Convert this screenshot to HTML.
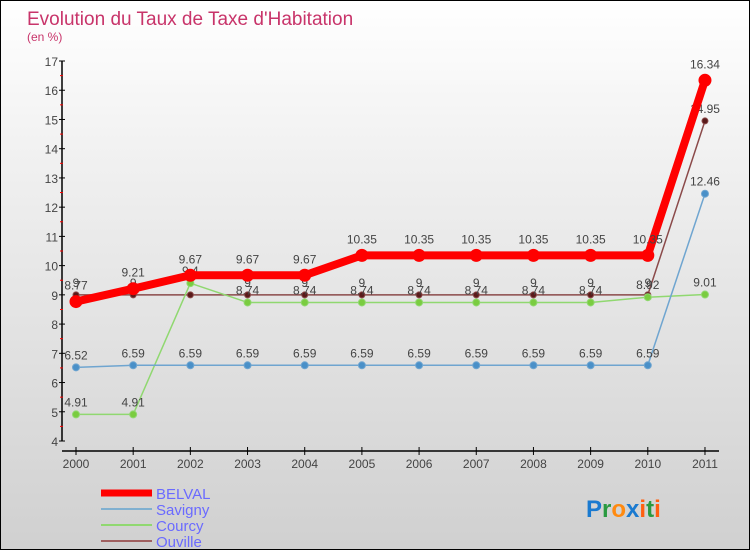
<!DOCTYPE html>
<html><head><meta charset="utf-8"><style>
body{margin:0}
#wrap{position:relative;width:748px;height:548px;border:1px solid #000;background:linear-gradient(#fff,#f0f0f0 30%,#d0d0d0);font-family:"Liberation Sans",sans-serif;overflow:hidden}
</style></head><body>
<div id="wrap">
<svg id="chart" width="748" height="548"></svg>
</div>
<script>
const years=[2000,2001,2002,2003,2004,2005,2006,2007,2008,2009,2010,2011];
const belval=[8.77,9.21,9.67,9.67,9.67,10.35,10.35,10.35,10.35,10.35,10.35,16.34];
const savigny=[6.52,6.59,6.59,6.59,6.59,6.59,6.59,6.59,6.59,6.59,6.59,12.46];
const courcy=[4.91,4.91,9.4,8.74,8.74,8.74,8.74,8.74,8.74,8.74,8.92,9.01];
const ouville=[9,9,9,9,9,9,9,9,9,9,9,14.95];
const yTicks=[4,5,6,7,8,9,10,11,12,13,14,15,16,17];
const NS='http://www.w3.org/2000/svg';
const svg=document.getElementById('chart');
const X=i=>75+i*57.18, Y=v=>440-(v-4)*29.23;
function el(t,a,txt){const e=document.createElementNS(NS,t);for(const k in a)e.setAttribute(k,a[k]);if(txt!==undefined)e.textContent=txt;svg.appendChild(e);return e;}
let e;
e=el('text',{x:26,y:24,'font-size':19,fill:'#c8346a'},'Evolution du Taux de Taxe d\'Habitation');

e=el('text',{x:26,y:40,'font-size':12,fill:'#c8346a'},'(en %)');

e=el('line',{x1:61,y1:60,x2:61,y2:440,stroke:'#000','stroke-width':1.5});

e=el('line',{x1:61,y1:450,x2:718,y2:450,stroke:'#000','stroke-width':1.5});

yTicks.forEach((v,i)=>{
  el('line',{x1:58,y1:Y(v),x2:64,y2:Y(v),stroke:'#000'});
  if(i<yTicks.length-1)el('line',{x1:59,y1:Y(v+0.5),x2:62,y2:Y(v+0.5),stroke:'#f00'});
  e=el('text',{x:57,y:Y(v)+5,'font-size':12,fill:'#444','text-anchor':'end'},v);
  
});
years.forEach((y,i)=>{
  el('line',{x1:X(i),y1:446,x2:X(i),y2:454,stroke:'#000'});
  e=el('text',{x:X(i),y:467,'font-size':12,fill:'#444','text-anchor':'middle'},y);
  
});
function series(name,data,color,w,r,dot,labelDy){
  const pts=data.map((v,i)=>X(i)+','+Y(v)).join(' ');
  e=el('polyline',{points:pts,fill:'none',stroke:color,'stroke-width':w,'stroke-linejoin':'round'});
  
  data.forEach((v,i)=>{
    e=el('circle',{cx:X(i),cy:Y(v),r:r,fill:dot,stroke:color,'stroke-width':1});
    
    e=el('text',{x:X(i),y:Y(v)+labelDy,'font-size':12,fill:'#444','text-anchor':'middle'},String(v));
    
  });
}
series('ouville',ouville,'#8b4a4a',1.5,3,'#5a1a1a',-8);
series('courcy',courcy,'#90d870',1.5,3.5,'#7acc40',-8);
series('savigny',savigny,'#6fa5d0',1.5,3.5,'#4a90c8',-8);
series('belval',belval,'#f00',8,6,'#f00',-12);
const leg=[['BELVAL','#f00',7],['Savigny','#80b0d0',2],['Courcy','#90d870',2],['Ouville','#a06060',2]];
leg.forEach((l,i)=>{
  const y=492+i*16;
  e=el('line',{x1:100,y1:y,x2:151,y2:y,stroke:l[1],'stroke-width':l[2]});
  
  e=el('text',{x:155,y:y+6,'font-size':15,fill:'#6a6aff'},l[0]);
  
});
const logo=[['P','#1a7ad0'],['r','#2a9a40'],['o','#ff8a10'],['x','#1a7ad0'],['i','#ff6010'],['t','#2a9a40'],['i','#ff6010']];
e=el('text',{x:585,y:516,'font-size':24,'font-weight':'bold'});

logo.forEach(c=>{const t=document.createElementNS(NS,'tspan');t.setAttribute('fill',c[1]);t.textContent=c[0];e.appendChild(t);});
</script>
</body></html>
